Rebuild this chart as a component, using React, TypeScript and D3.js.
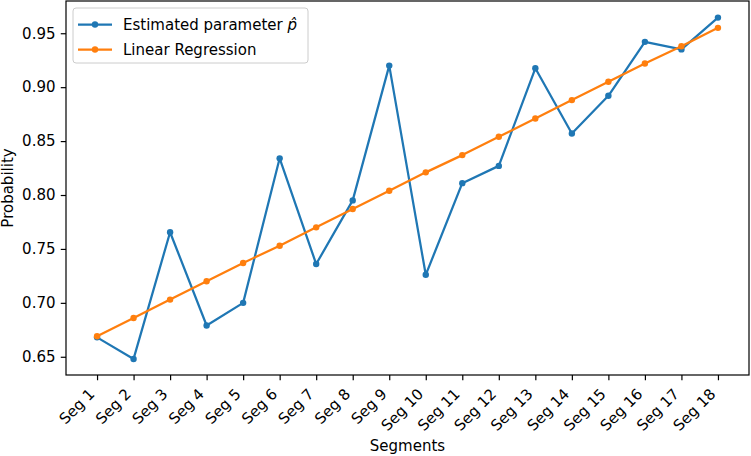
import React, { useEffect, useRef } from 'react';
import * as d3 from 'd3';

const segments = [
  'Seg 1', 'Seg 2', 'Seg 3', 'Seg 4', 'Seg 5', 'Seg 6', 'Seg 7', 'Seg 8', 'Seg 9',
  'Seg 10', 'Seg 11', 'Seg 12', 'Seg 13', 'Seg 14', 'Seg 15', 'Seg 16', 'Seg 17', 'Seg 18',
];
const estimated = [
  0.668, 0.648, 0.7655, 0.679, 0.700, 0.834, 0.736, 0.795, 0.920,
  0.726, 0.811, 0.827, 0.9175, 0.857, 0.892, 0.942, 0.935, 0.9645,
];
const regression = [
  0.669, 0.686, 0.703, 0.720, 0.737, 0.753, 0.770, 0.787, 0.804,
  0.821, 0.837, 0.854, 0.871, 0.888, 0.905, 0.922, 0.938, 0.955,
];
const yTicks = [0.65, 0.7, 0.75, 0.8, 0.85, 0.9, 0.95];

const W = 751;
const H = 456;
const FONT = 'DejaVu Sans, sans-serif';
const FS = 15;

export default function App() {
  const ref = useRef<SVGSVGElement>(null);

  useEffect(() => {
    const margin = { top: 1, right: 2, bottom: 81, left: 66 };
    const width = W - margin.left - margin.right;
    const height = H - margin.top - margin.bottom;

    const svg = d3.select(ref.current);
    svg.selectAll('*').remove();
    const g = svg.append('g').attr('transform', `translate(${margin.left},${margin.top})`);

    const n = segments.length;
    const x = d3
      .scaleLinear()
      .domain([-0.85, n - 1 + 0.85])
      .range([0, width]);
    const y = d3.scaleLinear().domain([0.6331, 0.9799]).range([height, 0]);

    // y axis
    const yAxis = g.append('g').call(
      d3.axisLeft(y).tickValues(yTicks).tickFormat(d3.format('.2f')).tickSize(5.25).tickPadding(5.25)
    );
    yAxis.select('.domain').remove();
    yAxis.selectAll('text').attr('font-family', FONT).attr('font-size', FS).attr('fill', '#000');
    yAxis.selectAll('line').attr('stroke', '#000').attr('stroke-width', 1.2);

    // x axis, labels rotated 45 degrees and right-aligned on the tick
    const xAxis = g
      .append('g')
      .attr('transform', `translate(0,${height})`)
      .call(
        d3.axisBottom(x)
          .tickValues(d3.range(n))
          .tickFormat((i) => segments[+i])
          .tickSize(5.25)
          .tickPadding(0)
      );
    xAxis.select('.domain').remove();
    xAxis.selectAll('line').attr('stroke', '#000').attr('stroke-width', 1.2);
    xAxis
      .selectAll('text')
      .attr('font-family', FONT)
      .attr('font-size', FS)
      .attr('fill', '#000')
      .attr('text-anchor', 'end')
      .attr('y', 0)
      .attr('dy', 0)
      .attr('transform', 'translate(-2,20) rotate(-45)');

    // frame
    g.append('rect')
      .attr('width', width)
      .attr('height', height)
      .attr('fill', 'none')
      .attr('stroke', '#000')
      .attr('stroke-width', 1.2);

    const line = d3
      .line<number>()
      .x((_, i) => x(i))
      .y((d) => y(d));

    const series = [
      { data: estimated, color: '#1f77b4' },
      { data: regression, color: '#ff7f0e' },
    ];
    series.forEach((s) => {
      g.append('path')
        .datum(s.data)
        .attr('d', line)
        .attr('fill', 'none')
        .attr('stroke', s.color)
        .attr('stroke-width', 2.25)
        .attr('stroke-linejoin', 'round');
      g.selectAll(null)
        .data(s.data)
        .enter()
        .append('circle')
        .attr('cx', (_, i) => x(i))
        .attr('cy', (d) => y(d))
        .attr('r', 3.2)
        .attr('fill', s.color);
    });

    // legend
    const lg = g.append('g').attr('transform', 'translate(7,7)');
    lg.append('rect')
      .attr('width', 235)
      .attr('height', 55)
      .attr('rx', 3)
      .attr('fill', 'white')
      .attr('fill-opacity', 0.8)
      .attr('stroke', '#ccc')
      .attr('stroke-width', 1);
    const labels = ['Estimated parameter ', 'Linear Regression'];
    series.forEach((s, i) => {
      const yy = 16.5 + i * 25;
      lg.append('line')
        .attr('x1', 5).attr('x2', 39)
        .attr('y1', yy).attr('y2', yy)
        .attr('stroke', s.color)
        .attr('stroke-width', 2.25);
      lg.append('circle').attr('cx', 22).attr('cy', yy).attr('r', 3.2).attr('fill', s.color);
      const t = lg.append('text')
        .attr('x', 50)
        .attr('y', yy + 5.5)
        .attr('font-family', FONT)
        .attr('font-size', FS)
        .attr('fill', '#000')
        .text(labels[i]);
      if (i === 0) t.append('tspan').attr('font-style', 'italic').text('p\u0302');
    });

    // axis titles
    svg.append('text')
      .attr('x', margin.left + width / 2)
      .attr('y', 450.5)
      .attr('text-anchor', 'middle')
      .attr('font-family', FONT)
      .attr('font-size', FS)
      .text('Segments');
    svg.append('text')
      .attr('transform', `translate(13,${margin.top + height / 2}) rotate(-90)`)
      .attr('text-anchor', 'middle')
      .attr('font-family', FONT)
      .attr('font-size', FS)
      .text('Probability');
  }, []);

  return (
    <svg
      ref={ref}
      width={W}
      height={H}
      style={{ position: 'absolute', left: 0, top: 0, background: 'white' }}
    />
  );
}
